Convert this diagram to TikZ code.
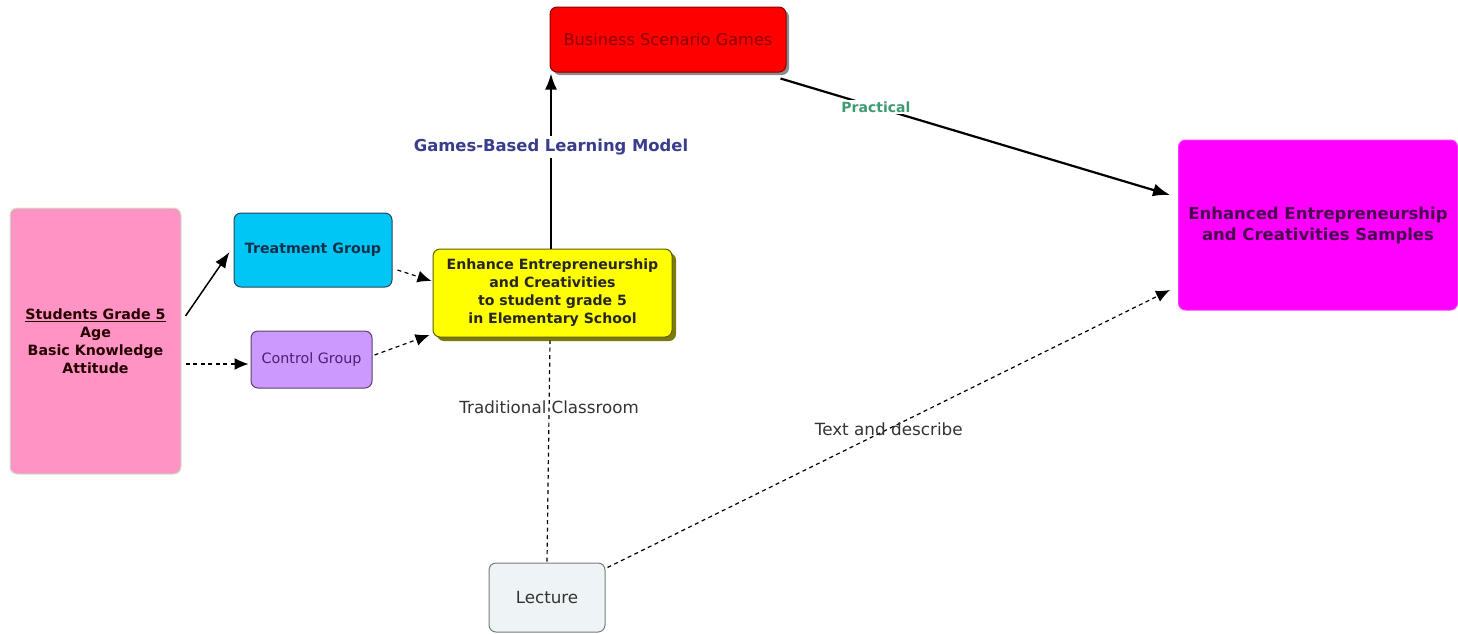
\documentclass[tikz,border=0pt]{standalone}
\usepackage{fontspec}
\setmainfont{DejaVu Sans}
\usetikzlibrary{arrows.meta,shadows}

\definecolor{pinkbox}{HTML}{FF94C4}
\definecolor{pinkedge}{HTML}{CDE8C4}
\definecolor{cyanbox}{HTML}{00C6F5}
\definecolor{cyanedge}{HTML}{27485A}
\definecolor{cyantext}{HTML}{12304A}
\definecolor{lavbox}{HTML}{CC99FF}
\definecolor{lavedge}{HTML}{5A4070}
\definecolor{lavtext}{HTML}{4A2070}
\definecolor{yelbox}{HTML}{FFFF00}
\definecolor{yeledge}{HTML}{5E5E00}
\definecolor{yelshadow}{HTML}{7A7A10}
\definecolor{redbox}{HTML}{FF0000}
\definecolor{rededge}{HTML}{8A0000}
\definecolor{redtext}{HTML}{8C0000}
\definecolor{magbox}{HTML}{FF00FF}
\definecolor{magtext}{HTML}{4A0050}
\definecolor{lecbox}{HTML}{EEF3F6}
\definecolor{lecedge}{HTML}{7A7A7A}
\definecolor{gblue}{HTML}{3A3D8C}
\definecolor{pgreen}{HTML}{3E9A72}
\definecolor{labgray}{HTML}{333333}

\tikzset{
  x=1pt, y=-1pt,
  box/.style={rectangle, rounded corners=7pt, align=center, inner sep=2pt, line width=1pt},
  solidarrow/.style={line width=1.5pt, -{Latex[length=16pt,width=12pt]}},
  thickarrow/.style={line width=2.2pt, -{Latex[length=17pt,width=13pt]}},
  dasharrow/.style={line width=1.2pt, dash pattern=on 4pt off 3.5pt, -{Latex[length=14pt,width=12pt]}},
  dashline/.style={line width=1.2pt, dash pattern=on 4pt off 3.5pt},
}

\begin{document}
\begin{tikzpicture}
\useasboundingbox (0,0) rectangle (1458,633);

% boxes
\node[box, fill=pinkbox, draw=pinkedge, minimum width=171pt, minimum height=266pt,
      font=\bfseries\fontsize{14.2}{18}\selectfont, text=black!85!red]
  (students) at (95.5,341)
  {\underline{Students Grade 5}\\Age\\Basic Knowledge\\Attitude};

\node[box, fill=cyanbox, draw=cyanedge, minimum width=158pt, minimum height=74pt,
      font=\bfseries\fontsize{14.2}{17}\selectfont, text=cyantext]
  (treat) at (313,250) {Treatment Group};

\node[box, fill=lavbox, draw=lavedge, minimum width=121pt, minimum height=57pt,
      font=\fontsize{14.3}{17}\selectfont, text=lavtext]
  (control) at (311.5,359.5) {Control Group};

\node[box, fill=yelbox, draw=yeledge, minimum width=239pt, minimum height=88pt,
      drop shadow={shadow xshift=4pt, shadow yshift=-4pt, fill=yelshadow, opacity=1},
      font=\bfseries\fontsize{14.1}{18}\selectfont, text=black!85]
  (goal) at (552.5,293)
  {Enhance Entrepreneurship\\and Creativities\\to student grade 5\\in Elementary School};

\node[box, fill=redbox, draw=rededge, minimum width=236pt, minimum height=65pt,
      drop shadow={shadow xshift=3pt, shadow yshift=-3pt, fill=black!45, opacity=1},
      font=\fontsize{16.2}{19}\selectfont, text=redtext]
  (games) at (668,39.5) {Business Scenario Games};

\node[box, fill=magbox, draw=magbox!80!white, minimum width=279pt, minimum height=170pt,
      font=\bfseries\fontsize{16.5}{21}\selectfont, text=magtext]
  (samples) at (1318,225)
  {Enhanced Entrepreneurship\\and Creativities Samples};

\node[box, fill=lecbox, draw=lecedge, minimum width=116pt, minimum height=69pt,
      font=\fontsize{16.7}{19}\selectfont, text=labgray]
  (lecture) at (547,597.5) {Lecture};

% connectors
\draw[solidarrow] ([xshift=4pt,yshift=25pt]students.east) -- ([xshift=-4pt,yshift=-2pt]treat.west);
\draw[dasharrow] ([xshift=4pt,yshift=-23pt]students.east) -- ([xshift=-2pt,yshift=-4.5pt]control.west);
\draw[dasharrow] ([xshift=5pt,yshift=-20pt]treat.east) -- ([xshift=-1pt,yshift=12pt]goal.west);
\draw[dasharrow] ([xshift=2pt,yshift=4.5pt]control.east) -- ([xshift=-3pt,yshift=-42pt]goal.west);

\draw[solidarrow, line width=2pt] ([xshift=-1.5pt]goal.north) -- ([xshift=-1.5pt,yshift=-1pt]goal.north |- games.south)
  node[pos=0.58, fill=white, inner sep=3pt, text=gblue, font=\bfseries\fontsize{16.4}{19}\selectfont]
  (gbl) {Games-Based Learning Model};

\draw[thickarrow] ([xshift=-6pt,yshift=-6pt]games.south east) -- ([xshift=-8pt,yshift=30pt]samples.west)
  node[pos=0.245, fill=white, inner sep=2pt, text=pgreen, font=\bfseries\fontsize{14}{17}\selectfont]
  (prac) {Practical};

\draw[dashline] ([xshift=0pt,yshift=1pt]lecture.north) -- ([xshift=-2.5pt,yshift=-3pt]goal.south)
  node[pos=0.70, text=labgray, font=\fontsize{16.7}{19}\selectfont] (trad) {Traditional Classroom};

\draw[dasharrow] ([xshift=2pt,yshift=-5pt]lecture.north east) -- ([xshift=-8pt,yshift=-65pt]samples.west)
  node[pos=0.5, text=labgray, font=\fontsize{16.8}{19}\selectfont] (text) {Text and describe};
\end{tikzpicture}
\end{document}
